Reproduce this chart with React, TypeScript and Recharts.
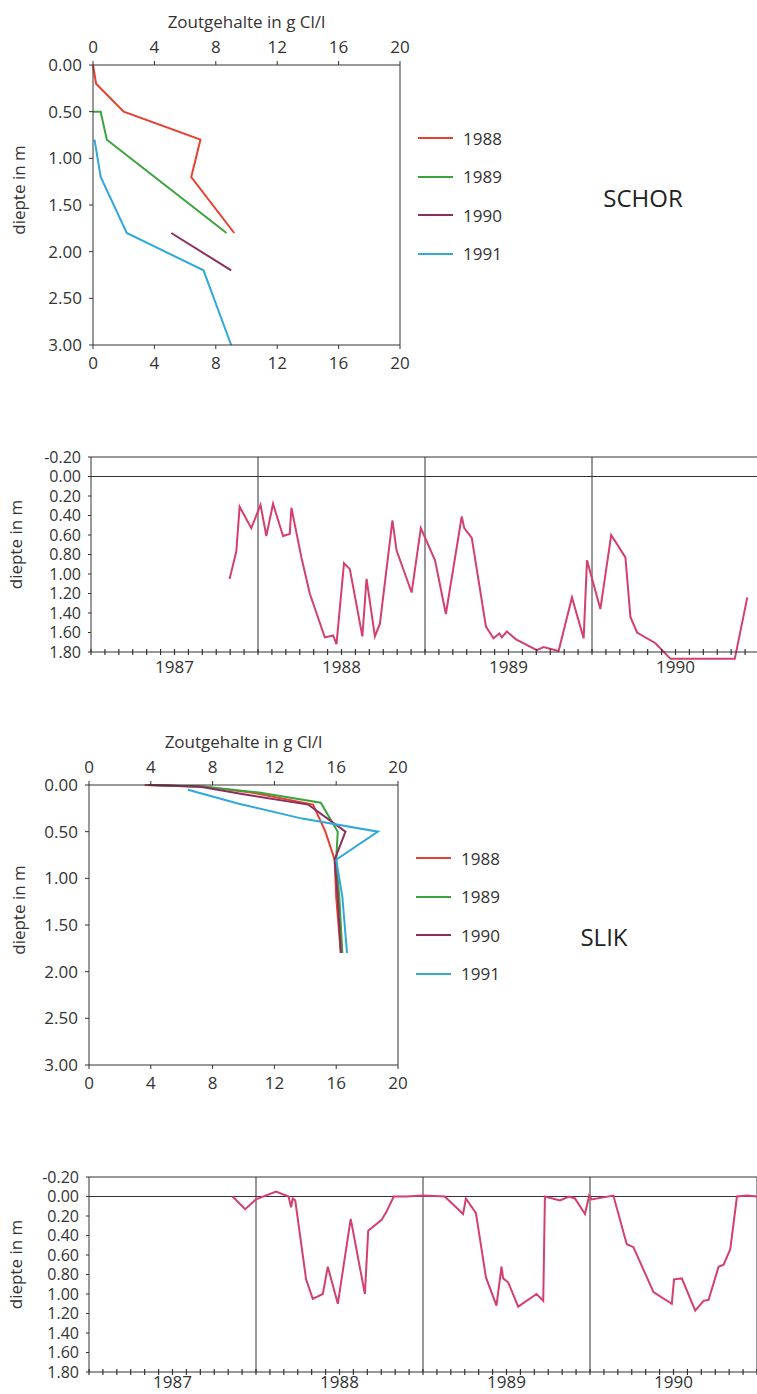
import React from 'react';
import { LineChart, Line, XAxis, YAxis, ReferenceLine, Legend } from 'recharts';

// ---------- shared labels / ticks ----------
const saltTicks = [0, 4, 8, 12, 16, 20];
const profileDepthTicks = [0, 0.5, 1, 1.5, 2, 2.5, 3];
const tsDepthTicks = [-0.2, 0, 0.2, 0.4, 0.6, 0.8, 1.0, 1.2, 1.4, 1.6, 1.8];
const yearLabels = ['1987', '1988', '1989', '1990'];
const yearBoundaries = [1988, 1989, 1990, 1991];
const seriesYears = ['1988', '1989', '1990', '1991'];
const seriesColors = ['#e8402f', '#3aa43c', '#8c2f5e', '#2fa9d9'];
const tsColor = '#d53f6d';
const axisColor = '#333';
const monthTicks = Array.from({ length: 49 }, (_, k) => 1987 + k / 12);

// ---------- SCHOR salt profiles (salt g Cl/l, depth m) ----------
const schor1988 = [
  { salt: 0, depth: 0 }, { salt: 0.2, depth: 0.2 }, { salt: 2.0, depth: 0.5 },
  { salt: 7.0, depth: 0.8 }, { salt: 6.4, depth: 1.2 }, { salt: 9.2, depth: 1.8 },
];
const schor1989 = [
  { salt: 0, depth: 0.5 }, { salt: 0.5, depth: 0.5 }, { salt: 0.9, depth: 0.8 }, { salt: 8.7, depth: 1.8 },
];
const schor1990 = [{ salt: 5.1, depth: 1.8 }, { salt: 9.0, depth: 2.2 }];
const schor1991 = [
  { salt: 0.1, depth: 0.8 }, { salt: 0.5, depth: 1.2 }, { salt: 2.2, depth: 1.8 },
  { salt: 7.2, depth: 2.2 }, { salt: 9.0, depth: 3.0 },
];

// ---------- SLIK salt profiles ----------
const slik1988 = [
  { salt: 3.6, depth: 0 }, { salt: 7.5, depth: 0.02 }, { salt: 10.5, depth: 0.08 }, { salt: 14.5, depth: 0.21 },
  { salt: 15.3, depth: 0.5 }, { salt: 15.9, depth: 0.8 }, { salt: 16.0, depth: 1.2 }, { salt: 16.3, depth: 1.8 },
];
const slik1989 = [
  { salt: 4.2, depth: 0 }, { salt: 7.5, depth: 0.02 }, { salt: 11.0, depth: 0.08 }, { salt: 15.0, depth: 0.19 },
  { salt: 16.1, depth: 0.5 }, { salt: 16.0, depth: 0.8 }, { salt: 16.2, depth: 1.2 }, { salt: 16.4, depth: 1.8 },
];
const slik1990 = [
  { salt: 3.8, depth: 0 }, { salt: 7.2, depth: 0.02 }, { salt: 10.0, depth: 0.1 }, { salt: 14.2, depth: 0.21 },
  { salt: 16.6, depth: 0.5 }, { salt: 15.9, depth: 0.8 }, { salt: 16.1, depth: 1.2 }, { salt: 16.3, depth: 1.8 },
];
const slik1991 = [
  { salt: 6.4, depth: 0.05 }, { salt: 9.7, depth: 0.2 }, { salt: 13.8, depth: 0.36 }, { salt: 18.7, depth: 0.5 },
  { salt: 16.0, depth: 0.8 }, { salt: 16.4, depth: 1.2 }, { salt: 16.7, depth: 1.8 },
];

// ---------- groundwater depth time series (t = year, d = depth m) ----------
const schorTime = [
  { t: 1987.83, d: 1.05 }, { t: 1987.87, d: 0.77 }, { t: 1987.89, d: 0.31 }, { t: 1987.96, d: 0.53 },
  { t: 1988.015, d: 0.29 }, { t: 1988.05, d: 0.61 }, { t: 1988.09, d: 0.28 }, { t: 1988.15, d: 0.61 },
  { t: 1988.19, d: 0.59 }, { t: 1988.2, d: 0.32 }, { t: 1988.26, d: 0.83 }, { t: 1988.31, d: 1.2 },
  { t: 1988.33, d: 1.3 }, { t: 1988.4, d: 1.65 }, { t: 1988.45, d: 1.63 }, { t: 1988.47, d: 1.72 },
  { t: 1988.515, d: 0.89 }, { t: 1988.55, d: 0.95 }, { t: 1988.625, d: 1.64 }, { t: 1988.65, d: 1.05 },
  { t: 1988.7, d: 1.64 }, { t: 1988.73, d: 1.51 }, { t: 1988.805, d: 0.45 }, { t: 1988.83, d: 0.76 },
  { t: 1988.92, d: 1.19 }, { t: 1988.975, d: 0.53 }, { t: 1989.06, d: 0.86 }, { t: 1989.125, d: 1.41 },
  { t: 1989.22, d: 0.41 }, { t: 1989.235, d: 0.53 }, { t: 1989.28, d: 0.63 }, { t: 1989.365, d: 1.54 },
  { t: 1989.41, d: 1.66 }, { t: 1989.445, d: 1.61 }, { t: 1989.46, d: 1.65 }, { t: 1989.49, d: 1.59 },
  { t: 1989.545, d: 1.67 }, { t: 1989.67, d: 1.78 }, { t: 1989.71, d: 1.75 }, { t: 1989.8, d: 1.79 },
  { t: 1989.88, d: 1.24 }, { t: 1989.95, d: 1.66 }, { t: 1989.97, d: 0.86 }, { t: 1990.05, d: 1.36 },
  { t: 1990.115, d: 0.6 }, { t: 1990.2, d: 0.83 }, { t: 1990.23, d: 1.44 }, { t: 1990.27, d: 1.6 },
  { t: 1990.38, d: 1.71 }, { t: 1990.47, d: 1.87 }, { t: 1990.855, d: 1.87 }, { t: 1990.93, d: 1.24 },
];
const slikTime = [
  { t: 1987.86, d: 0.0 }, { t: 1987.935, d: 0.13 }, { t: 1988.0, d: 0.03 }, { t: 1988.12, d: -0.05 },
  { t: 1988.195, d: 0.0 }, { t: 1988.21, d: 0.11 }, { t: 1988.22, d: 0.02 }, { t: 1988.235, d: 0.04 },
  { t: 1988.3, d: 0.85 }, { t: 1988.34, d: 1.05 }, { t: 1988.4, d: 1.0 }, { t: 1988.43, d: 0.72 },
  { t: 1988.49, d: 1.1 }, { t: 1988.567, d: 0.23 }, { t: 1988.652, d: 1.0 }, { t: 1988.672, d: 0.35 },
  { t: 1988.752, d: 0.24 }, { t: 1988.78, d: 0.16 }, { t: 1988.825, d: 0.0 }, { t: 1988.9, d: 0.0 },
  { t: 1989.0, d: -0.01 }, { t: 1989.13, d: 0.0 }, { t: 1989.24, d: 0.18 }, { t: 1989.257, d: 0.02 },
  { t: 1989.317, d: 0.17 }, { t: 1989.377, d: 0.83 }, { t: 1989.44, d: 1.12 }, { t: 1989.47, d: 0.72 },
  { t: 1989.48, d: 0.84 }, { t: 1989.51, d: 0.88 }, { t: 1989.57, d: 1.13 }, { t: 1989.68, d: 1.0 },
  { t: 1989.72, d: 1.07 }, { t: 1989.73, d: 0.0 }, { t: 1989.82, d: 0.04 }, { t: 1989.875, d: 0.0 },
  { t: 1989.91, d: 0.02 }, { t: 1989.97, d: 0.18 }, { t: 1989.995, d: -0.01 }, { t: 1990.01, d: 0.03 },
  { t: 1990.14, d: -0.01 }, { t: 1990.22, d: 0.49 }, { t: 1990.26, d: 0.52 }, { t: 1990.38, d: 0.98 },
  { t: 1990.49, d: 1.1 }, { t: 1990.503, d: 0.85 }, { t: 1990.55, d: 0.84 }, { t: 1990.63, d: 1.17 },
  { t: 1990.68, d: 1.07 }, { t: 1990.71, d: 1.06 }, { t: 1990.77, d: 0.72 }, { t: 1990.8, d: 0.7 },
  { t: 1990.84, d: 0.54 }, { t: 1990.88, d: 0.0 }, { t: 1990.94, d: -0.01 }, { t: 1991.0, d: 0.0 },
];

const fmt2 = (v: number) => v.toFixed(2);

const yLabel = (dy: number, dx: number) => (props: any) => {
  const vb = props.viewBox || { x: 0, y: 0, width: 0, height: 0 };
  const cx = vb.x + dx;
  const cy = vb.y + vb.height / 2 + dy;
  return (
    <text x={cx} y={cy} transform={`rotate(-90, ${cx}, ${cy})`} textAnchor="middle"
      dominantBaseline="central" fill={axisColor} fontSize={17}>diepte in m</text>
  );
};

const topTitle = (props: any) => {
  const vb = props.viewBox || { x: 0, y: 0, width: 0, height: 0 };
  return (
    <text x={vb.x + vb.width / 2} y={vb.y + 28} textAnchor="middle" fill={axisColor} fontSize={17}>
      Zoutgehalte in g Cl/l
    </text>
  );
};

const LegendBox = ({ colors }: { colors: string[] }) => (
  <div style={{ display: 'flex', flexDirection: 'column' }}>
    {seriesYears.map((y, i) => (
      <div key={y} style={{ height: 38.5, display: 'flex', alignItems: 'center' }}>
        <svg width={35} height={4} style={{ display: 'block' }}>
          <line x1={0} x2={35} y1={2} y2={2} stroke={colors[i]} strokeWidth={2} />
        </svg>
        <span style={{ marginLeft: 10, fontSize: 17, lineHeight: 1, color: axisColor }}>{y}</span>
      </div>
    ))}
  </div>
);

function ProfileChart({ series, yAxisWidth, plotRight }: { series: any[][]; yAxisWidth: number; plotRight: number }) {
  return (
    <LineChart width={757} height={380} margin={{ top: 0, right: 757 - plotRight, bottom: 0, left: 0 }}>
      <XAxis xAxisId="t" orientation="top" type="number" dataKey="salt" domain={[0, 20]} ticks={saltTicks}
        interval={0} height={65} allowDataOverflow tickSize={4} tickMargin={8} stroke={axisColor}
        tick={{ fill: axisColor, fontSize: 17 }} label={topTitle} />
      <XAxis xAxisId="b" orientation="bottom" type="number" dataKey="salt" domain={[0, 20]} ticks={saltTicks}
        interval={0} height={35} tickSize={4} tickMargin={8} stroke={axisColor}
        tick={{ fill: axisColor, fontSize: 17 }} />
      <YAxis yAxisId="d" type="number" domain={[0, 3]} reversed ticks={profileDepthTicks} interval={0}
        width={yAxisWidth} tickFormatter={fmt2} tickSize={4} tickMargin={7} stroke={axisColor}
        tick={{ fill: axisColor, fontSize: 17 }} label={yLabel(-15, 18)} />
      <ReferenceLine xAxisId="b" yAxisId="d" x={20} stroke={axisColor} strokeWidth={1} />
      <Line xAxisId="t" yAxisId="d" data={series[3]} dataKey="depth" stroke="none" dot={false}
        activeDot={false} legendType="none" isAnimationActive={false} />
      {series.map((s, i) => (
        <Line key={seriesYears[i]} name={seriesYears[i]} xAxisId="b" yAxisId="d" data={s} dataKey="depth"
          stroke={seriesColors[i]} strokeWidth={2} dot={false} activeDot={false} isAnimationActive={false} />
      ))}
      <Legend layout="vertical" align="center" verticalAlign="middle"
        wrapperStyle={{ left: plotRight + 18, top: 119, width: 110 }}
        content={() => <LegendBox colors={seriesColors} />} />
    </LineChart>
  );
}

const makeYearTick = (labelDy: number) => (props: any) => {
  const { x, y, payload } = props;
  const v = payload.value as number;
  const idx = Math.floor(v + 1e-6) - 1987;
  const frac = v - Math.floor(v + 1e-6);
  const isMid = Math.abs(frac - 0.5) < 1e-3 && idx >= 0 && idx < yearLabels.length;
  return (
    <g>
      <line x1={x} x2={x} y1={y - 3} y2={y + 3} stroke={axisColor} strokeWidth={1.2} />
      {isMid && (
        <text x={x} y={y + labelDy} textAnchor="middle" fill={axisColor} fontSize={17}>{yearLabels[idx]}</text>
      )}
    </g>
  );
};
const tickTop = makeYearTick(21);
const tickBottom = makeYearTick(16);

function TimeChart({ data, yAxisWidth, tick }: { data: any[]; yAxisWidth: number; tick: any }) {
  return (
    <LineChart className="unclip" width={yAxisWidth + 668 + 5} height={240}
      margin={{ top: 10, right: 5, bottom: 0, left: 0 }}>
      <XAxis type="number" dataKey="t" domain={[1987, 1991]} ticks={monthTicks} interval={0}
        tick={tick} tickLine={false} tickSize={0} tickMargin={0} height={35} stroke={axisColor} />
      <YAxis type="number" domain={[-0.2, 1.8]} reversed allowDataOverflow ticks={tsDepthTicks} interval={0}
        width={yAxisWidth} tickFormatter={fmt2} tickSize={3} tickMargin={7} stroke={axisColor}
        tick={{ fill: axisColor, fontSize: 16 }} label={yLabel(-10, 15)} />
      <ReferenceLine y={-0.2} stroke={axisColor} strokeWidth={1} />
      <ReferenceLine y={0} stroke={axisColor} strokeWidth={1} />
      {yearBoundaries.map((yb) => (
        <ReferenceLine key={yb} x={yb} stroke={axisColor} strokeWidth={1} />
      ))}
      <Line data={data} dataKey="d" stroke={tsColor} strokeWidth={2} dot={false} activeDot={false}
        isAnimationActive={false} />
    </LineChart>
  );
}

export default function App() {
  return (
    <div style={{
      position: 'fixed', left: 0, top: 0, width: 757, height: 1394, overflow: 'hidden',
      background: '#fff', fontFamily: "'Open Sans', 'Noto Sans', sans-serif", fontSize: 17, color: axisColor,
    }}>
      <style>{`.unclip [clip-path]{clip-path:none !important;}`}</style>
      <div style={{ position: 'absolute', left: 0, top: 0 }}>
        <ProfileChart series={[schor1988, schor1989, schor1990, schor1991]} yAxisWidth={93} plotRight={400} />
      </div>
      <div style={{ position: 'absolute', left: 643, top: 198, transform: 'translate(-50%, -50%)', fontSize: 24, lineHeight: 1, color: '#222' }}>SCHOR</div>
      <div style={{ position: 'absolute', left: 0, top: 447 }}>
        <TimeChart data={schorTime} yAxisWidth={91} tick={tickTop} />
      </div>
      <div style={{ position: 'absolute', left: 0, top: 720 }}>
        <ProfileChart series={[slik1988, slik1989, slik1990, slik1991]} yAxisWidth={89} plotRight={398} />
      </div>
      <div style={{ position: 'absolute', left: 604, top: 937, transform: 'translate(-50%, -50%)', fontSize: 24, lineHeight: 1, color: '#222' }}>SLIK</div>
      <div style={{ position: 'absolute', left: 0, top: 1167 }}>
        <TimeChart data={slikTime} yAxisWidth={89} tick={tickBottom} />
      </div>
    </div>
  );
}
